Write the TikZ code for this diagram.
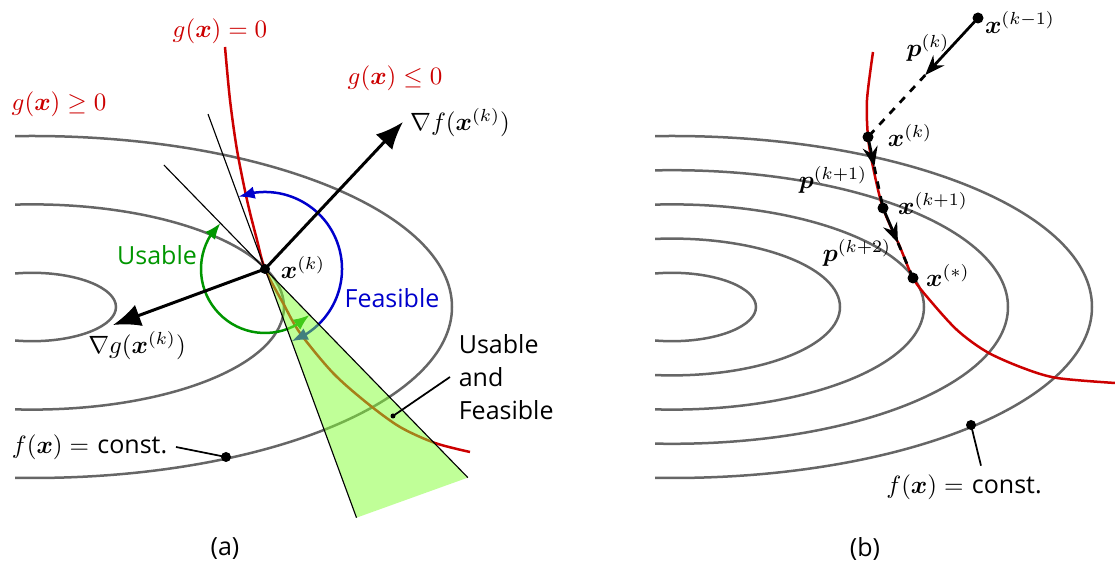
\documentclass[tikz,border=0pt]{standalone}
\usepackage{fontspec}
\setsansfont{Open Sans}
\usepackage{bm}
\usetikzlibrary{arrows.meta,bending,calc}

\definecolor{gred}{RGB}{204,0,0}
\definecolor{usegreen}{RGB}{0,150,0}
\definecolor{feasblue}{RGB}{0,0,204}
\definecolor{conegreen}{RGB}{130,255,50}

\begin{document}
\begin{tikzpicture}[x=0.4pt,y=0.4pt,
	contour/.style={draw=black!60, line width=1pt},
	constraint/.style={draw=gred, line width=1pt},
	thinline/.style={draw=black, line width=0.45pt},
	gradarrow/.style={draw=black, line width=1.2pt, -{Latex[length=11pt,width=9pt]}},
	arcarrow/.style={line width=1pt, {Latex[length=6.5pt,width=5pt]}-{Latex[length=6.5pt,width=5pt]}},
	pointer/.style={draw=black, line width=0.7pt},
	stepline/.style={draw=black, line width=1.1pt},
	steptip/.style={-{Stealth[length=8pt,width=6pt]}}]

\useasboundingbox (0,0) rectangle (1115,566);

% Figura (a)
\coordinate (xk) at (265,297);
\begin{scope}
	\clip (15,0) rectangle (560,566);
	\foreach \k in {1,3,5}
		\draw[contour] (32,259) ellipse [x radius=84*\k, y radius=34.2*\k];
\end{scope}

\draw[constraint] plot[smooth] coordinates {(225,519) (230,466) (237,416) (247,366)
	(257,326) (265,297) (283,263) (300,233) (333,193) (367,163) (400,139) (435,123) (470,114)};

\path (xk) ++(110.2:165) coordinate (tg);
\path (xk) ++(134.2:145) coordinate (tf);
\path (xk) ++(-69.8:265) coordinate (cb);
\path (xk) ++(-45.8:291) coordinate (cr);
\draw[thinline] (xk) -- (tg);
\draw[thinline] (xk) -- (tf);

\draw[arcarrow, usegreen] ([shift={(134.2:64)}]xk) arc[start angle=134.2, end angle=314.2, radius=64];
\draw[arcarrow, feasblue] ([shift={(110.2:77)}]xk) arc[start angle=110.2, end angle=-69.8, radius=77];

% Cono usable y feasible
\fill[conegreen, fill opacity=0.5] (xk) -- (cb) -- (cr) -- cycle;
\draw[thinline] (cb) -- (xk) -- (cr);

\coordinate (gf) at (403,444);
\coordinate (gg) at (113,241);
\draw[gradarrow] (xk) -- (gf);
\draw[gradarrow] (xk) -- (gg);
\fill (xk) circle [radius=5];

\node[text=gred] (lgzero) at (220,535) {$g(\bm{x})=0$};
\node[text=gred] (lgge) at (59,462) {$g(\bm{x})\geq 0$};
\node[text=gred] (lgle) at (395,488) {$g(\bm{x})\leq 0$};
\node (lgf) at (460,443) {$\nabla f(\bm{x}^{(k)})$};
\node (lxk) at (303,299) {$\bm{x}^{(k)}$};
\node (lgg) at (137,220) {$\nabla g(\bm{x}^{(k)})$};
\node[text=usegreen, font=\sffamily] (lus) at (157,311) {Usable};
\node[text=feasblue, font=\sffamily] (lfe) at (392,268) {Feasible};

\node[font={\sffamily\fontsize{10}{13.2}\selectfont}, align=left, anchor=west] (luf) at (450,189) {Usable\\and\\Feasible};
\coordinate (lufdot) at (393,150);
\draw[pointer] (luf.west) -- (lufdot);
\fill (lufdot) circle [radius=2.5];

\node[anchor=east] (lfa) at (176,119) {$f(\bm{x})=$ \textsf{const.}};
\coordinate (fadot) at (226,109);
\draw[pointer] (lfa.east) -- (fadot);
\fill (fadot) circle [radius=5];

\node[font=\sffamily] (capa) at (225,17) {(a)};

% Figura (b)
\begin{scope}
	\clip (655,0) rectangle (1115,566);
	\foreach \k in {1,...,5}
		\draw[contour] (672,259) ellipse [x radius=84*\k, y radius=34.2*\k];
\end{scope}

\draw[constraint] plot[smooth] coordinates {(873,514) (867,466) (868,429) (873,399) (883,358)
	(900,319) (913,288) (928,268) (957,236) (987,214) (1023,198) (1057,188) (1115,183)};

\coordinate (xkm) at (978,548);
\coordinate (xkb) at (868,429);
\coordinate (xkp) at (883,358);
\coordinate (xst) at (913,288);
\coordinate (pk) at ($(xkm)!0.48!(xkb)$);
\coordinate (pkp) at ($(xkb)!0.42!(xkp)$);
\coordinate (pkpp) at ($(xkp)!0.5!(xst)$);

\draw[stepline, steptip] (xkm) -- (pk);
\draw[stepline, dashed] (pk) -- (xkb);
\draw[stepline, steptip] (xkb) -- (pkp);
\draw[stepline, dashed] (pkp) -- (xkp);
\draw[stepline, steptip] (xkp) -- (pkpp);
\draw[stepline, dashed] (pkpp) -- (xst);

\foreach \p in {xkm, xkb, xkp, xst}
	\fill (\p) circle [radius=5.5];

\node (lxkm) at (1020,544) {$\bm{x}^{(k-1)}$};
\node (lpk) at (928,518) {$\bm{p}^{(k)}$};
\node (lxkb) at (910,431) {$\bm{x}^{(k)}$};
\node (lpkp) at (833,386) {$\bm{p}^{(k+1)}$};
\node (lxkp) at (933,363) {$\bm{x}^{(k+1)}$};
\node (lpkpp) at (857,313) {$\bm{p}^{(k+2)}$};
\node (lxst) at (948,291) {$\bm{x}^{(*)}$};

\node (lfb) at (964,79) {$f(\bm{x})=$ \textsf{const.}};
\coordinate (fbdot) at (971,141);
\draw[pointer] (fbdot) -- ([xshift=6.8pt]lfb.north);
\fill (fbdot) circle [radius=5];

\node[font=\sffamily] (capb) at (865,17) {(b)};
\end{tikzpicture}
\end{document}
